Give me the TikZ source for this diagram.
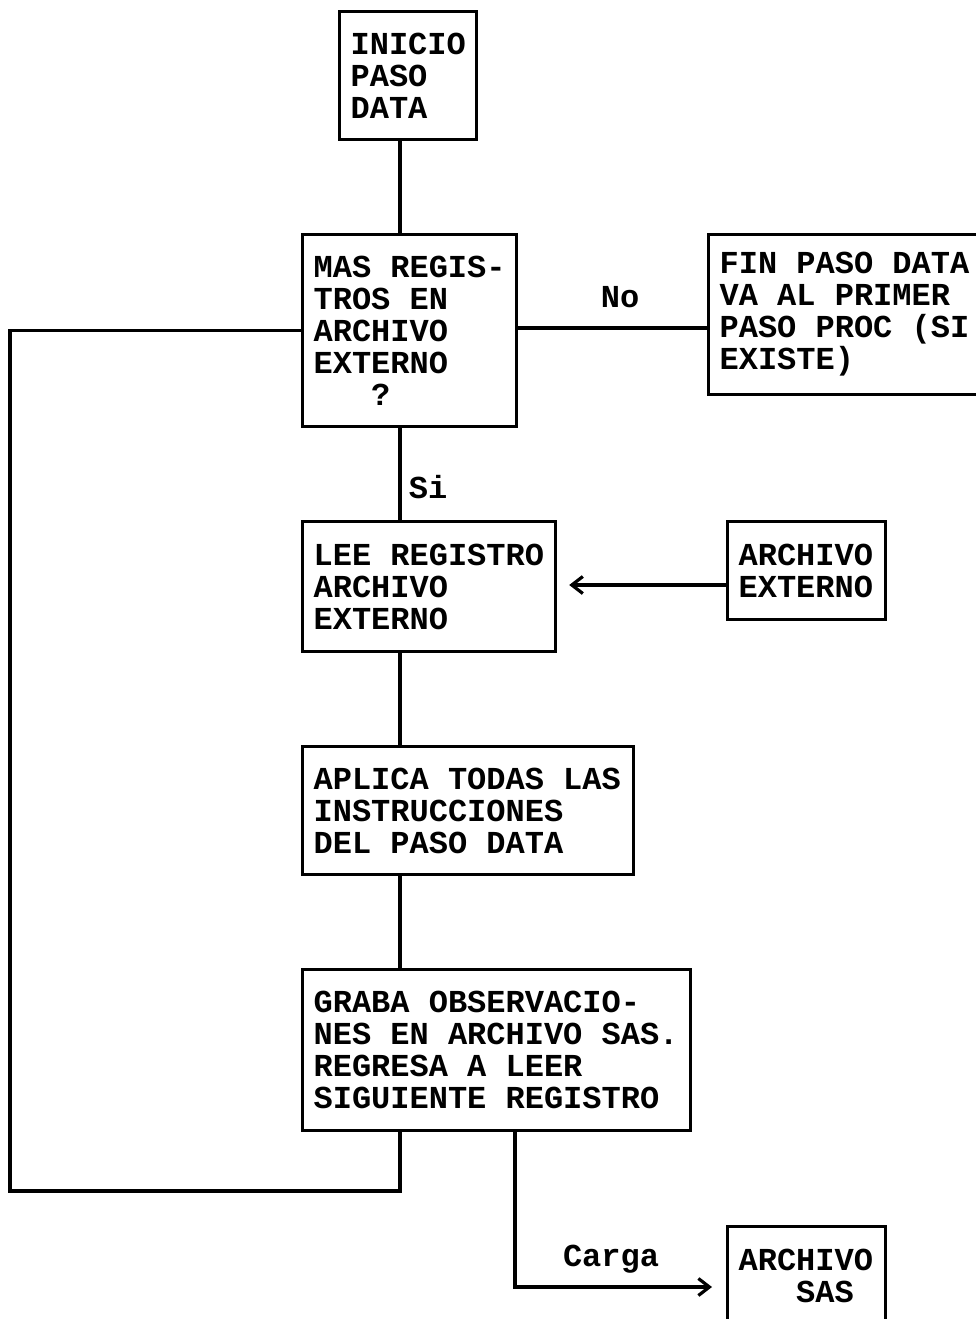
\documentclass[tikz,border=0pt]{standalone}
\usepackage{fontspec}
\newfontfamily\cour{Liberation Mono}
\newcommand\courfont{\cour\bfseries\fontsize{32}{32}\selectfont}
\usetikzlibrary{arrows.meta,calc}
\begin{document}
\begin{tikzpicture}[x=1pt,y=-1pt,
  box/.style={draw,line width=3.2pt,anchor=north west,inner xsep=11pt,inner ysep=0pt,
    align=flush left,font=\courfont},
  lbl/.style={anchor=base,font=\courfont,inner sep=0pt},
  conn/.style={line width=3.2pt},
  tip/.style={-{Straight Barb[length=11pt,width=17pt,line width=3.2pt]}}]
\useasboundingbox (0,0) rectangle (975,1319);
\node[box,minimum width=137pt,minimum height=128pt,text width=115pt] (inicio) at (338,10) {INICIO\\PASO\\DATA};
\node[box,minimum width=214pt,minimum height=192pt,text width=192pt] (mas) at (301,233) {MAS REGIS-\\TROS EN\\ARCHIVO\\EXTERNO\\\hphantom{XXX}?};
\node[box,minimum width=290pt,minimum height=160pt,text width=268pt] (fin) at (707,233) {FIN PASO DATA\\VA AL PRIMER\\PASO PROC (SI\\EXISTE)};
\node[box,minimum width=253pt,minimum height=130pt,text width=231pt] (lee) at (301,520) {LEE REGISTRO\\ARCHIVO\\EXTERNO};
\node[box,minimum width=158pt,minimum height=98pt,text width=136pt] (ext) at (726,520) {ARCHIVO\\EXTERNO};
\node[box,minimum width=331pt,minimum height=128pt,text width=309pt] (aplica) at (301,745) {APLICA TODAS LAS\\INSTRUCCIONES\\DEL PASO DATA};
\node[box,minimum width=388pt,minimum height=161pt,text width=366pt] (graba) at (301,968) {GRABA OBSERVACIO-\\NES EN ARCHIVO SAS.\\REGRESA A LEER\\SIGUIENTE REGISTRO};
\node[box,minimum width=158pt,minimum height=98pt,text width=136pt] (sas) at (726,1225) {ARCHIVO\\\hphantom{XXX}SAS};
\coordinate (spine) at (400,0);
\coordinate (cx) at (515,0);
\coordinate (loopl) at (10,1191);
\coordinate (cin) at (726,1287);
\coordinate (ein) at (726,585);
\coordinate (mr) at (515,328);
\draw[conn] (inicio.south -| spine) -- (mas.north -| spine);
\draw[conn] (mas.south -| spine) -- (lee.north -| spine);
\draw[conn] (lee.south -| spine) -- (aplica.north -| spine);
\draw[conn] (aplica.south -| spine) -- (graba.north -| spine);
\draw[conn] (mr) -- (mr -| fin.west);
\draw[conn,tip,shorten >=12pt] (ein) -- (ein -| lee.east);
\draw[conn] (graba.south -| spine) |- (loopl) |- (mas.west);
\draw[conn,tip,shorten >=14pt] (graba.south -| cx) |- (cin);
\node[lbl] (no) at (620,307) {No};
\node[lbl] (si) at (428,498) {Si};
\node[lbl] (carga) at (611,1266) {Carga};
\end{tikzpicture}
\end{document}
